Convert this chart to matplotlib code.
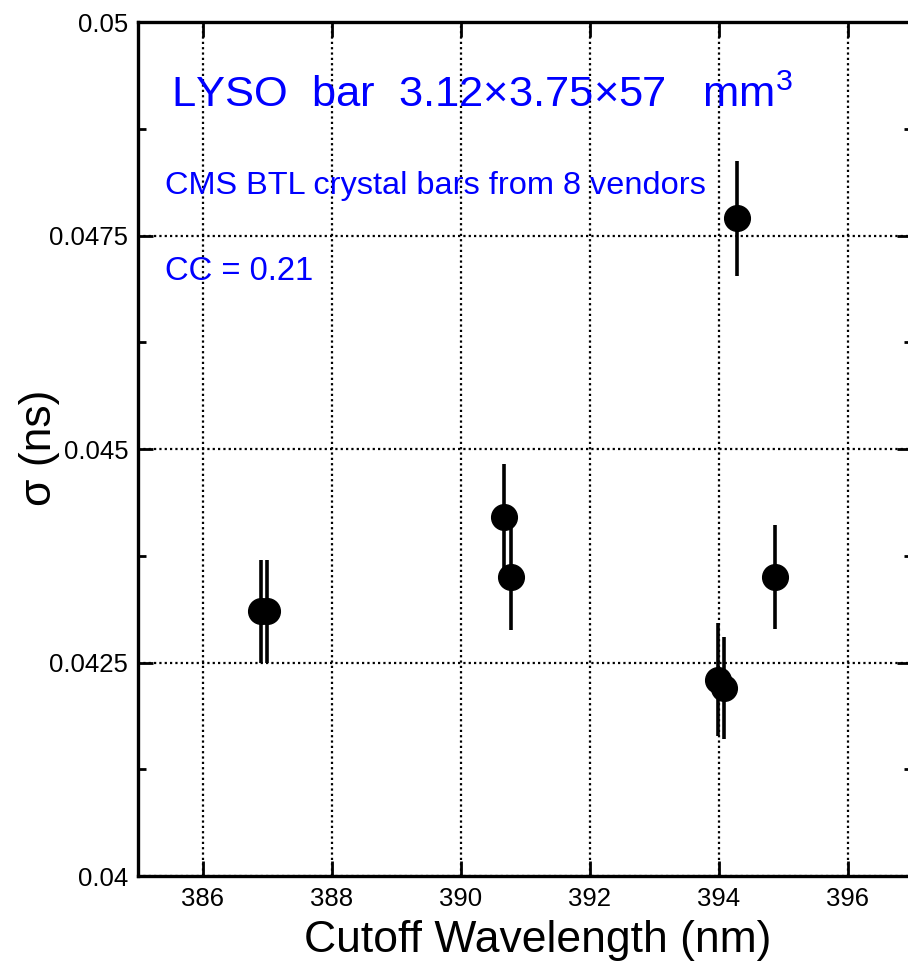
import matplotlib
matplotlib.use("Agg")
import matplotlib.pyplot as plt
from matplotlib.ticker import MultipleLocator, FuncFormatter

plt.rcParams['font.family'] = ['Liberation Sans', 'DejaVu Sans']
plt.rcParams['mathtext.fontset'] = 'custom'
plt.rcParams['mathtext.rm'] = 'Liberation Sans'
plt.rcParams['mathtext.it'] = 'Liberation Sans:italic'
plt.rcParams['mathtext.bf'] = 'Liberation Sans:bold'

# Cutoff wavelength (nm) vs timing resolution sigma (ns), one point per vendor
cutoff_nm = [386.90, 387.00, 390.68, 390.79, 394.29, 393.99, 394.08, 394.88]
sigma_ns = [0.04310, 0.04310, 0.04420, 0.04350, 0.04770, 0.04230, 0.04220, 0.04350]
sigma_err = [0.00060, 0.00060, 0.00062, 0.00062, 0.00067, 0.00066, 0.00060, 0.00061]

x_ticks = [386, 388, 390, 392, 394, 396]
y_ticks = [0.04, 0.0425, 0.045, 0.0475, 0.05]

fig = plt.figure(figsize=(9.08, 9.68), dpi=100)
ax = fig.add_axes([138 / 908, 92 / 968, 774 / 908, 854 / 968])

ax.errorbar(cutoff_nm, sigma_ns, yerr=sigma_err, fmt='o', color='black',
            ms=18.5, elinewidth=2.6, capsize=0, zorder=3)

ax.set_xlim(385, 397)
ax.set_ylim(0.04, 0.05)
ax.set_xticks(x_ticks)
ax.set_yticks(y_ticks)
ax.yaxis.set_major_formatter(FuncFormatter(lambda v, p: f"{v:g}"))
ax.yaxis.set_minor_locator(MultipleLocator(0.00125))

ax.grid(True, which='major', color='black', linestyle=(0, (1, 1.4)), linewidth=1.6)

for sp in ax.spines.values():
    sp.set_linewidth(2.4)

ax.tick_params(which='major', direction='in', length=11, width=2,
               top=True, right=True, labelsize=18.5, colors='black')
ax.tick_params(axis='x', which='major', pad=8)
ax.tick_params(axis='y', which='major', pad=7)
ax.tick_params(which='minor', direction='in', length=6, width=2,
               left=True, right=True)

ax.set_xlabel("Cutoff Wavelength (nm)", fontsize=32)
ax.xaxis.set_label_coords(0.516, -0.075)
ax.xaxis.label.set_va('center')
ax.set_ylabel("σ (ns)", fontsize=32)
ax.yaxis.set_label_coords(-0.127, 0.501)
ax.yaxis.label.set_va('center')

blue = '#0000ff'
ax.text(0.042, 0.9005, "LYSO  bar  3.12×3.75×57   mm$^{3}$", transform=ax.transAxes,
        fontsize=31.3, color=blue, va='baseline', ha='left')
ax.text(0.035, 0.799, "CMS BTL crystal bars from 8 vendors", transform=ax.transAxes,
        fontsize=23.4, color=blue, va='baseline', ha='left')
ax.text(0.035, 0.698, "CC = 0.21", transform=ax.transAxes,
        fontsize=23.6, color=blue, va='baseline', ha='left')

fig.savefig("out.png", dpi=100)
